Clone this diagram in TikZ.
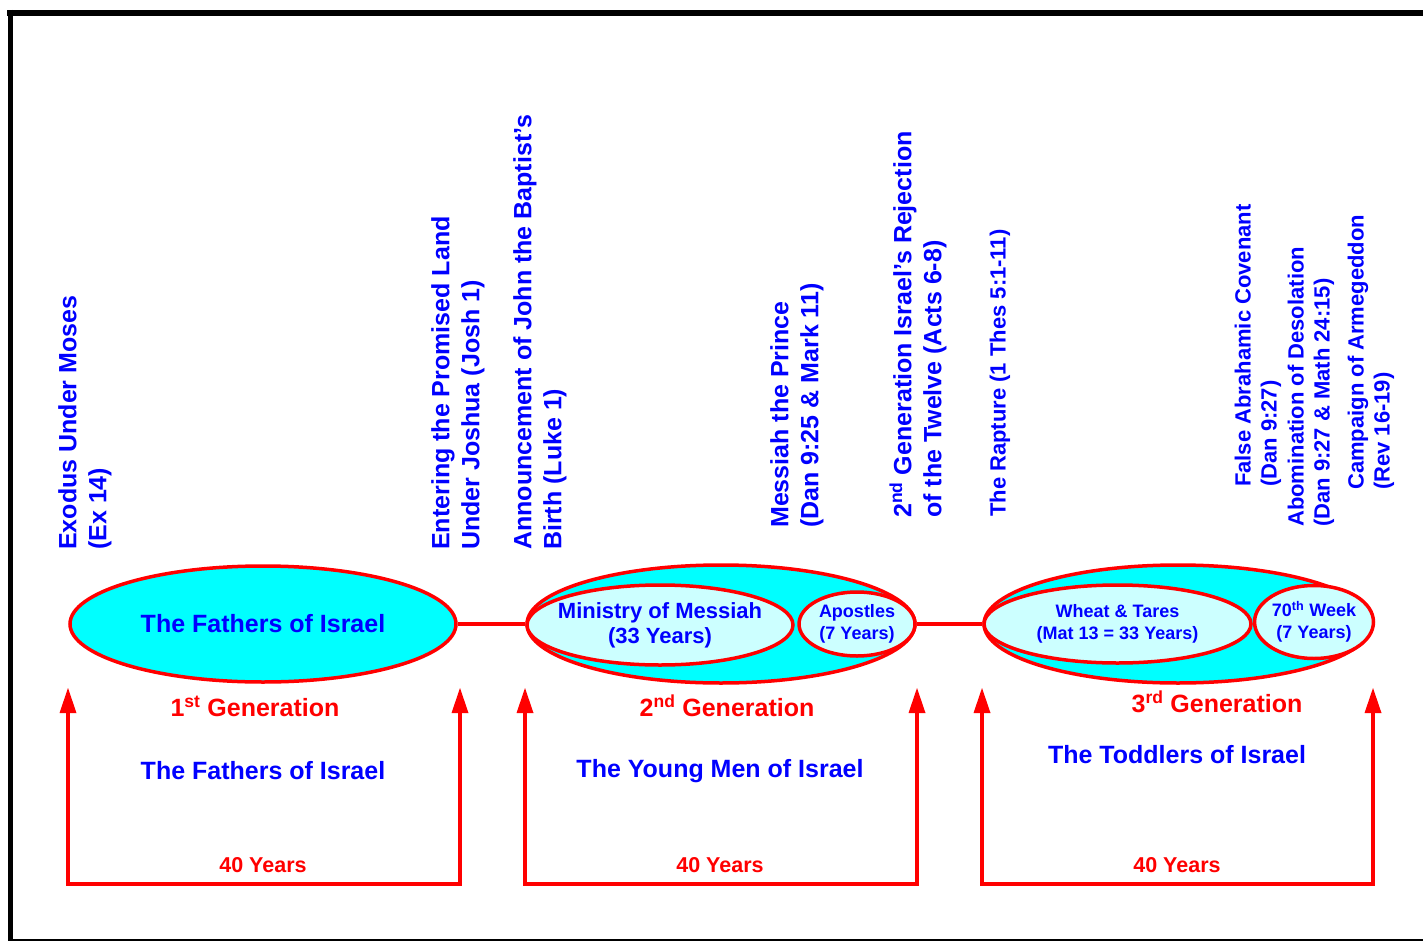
\documentclass[tikz,border=0pt]{standalone}
\usepackage{fontspec}
\setmainfont{Liberation Sans}
\usetikzlibrary{shapes.geometric, arrows.meta}
\definecolor{skyfill}{HTML}{00FFFF}
\definecolor{palefill}{HTML}{CCFFFF}
\definecolor{textblue}{HTML}{0000FF}
\definecolor{linered}{HTML}{FF0000}
\tikzstyle{generation} = [ellipse, draw=linered, line width=3.5pt, fill=skyfill, inner sep=0pt, text=textblue, align=center]
\tikzstyle{period} = [generation, fill=palefill]
\tikzstyle{event} = [rotate=90, anchor=west, align=left, inner sep=0pt, text=textblue, font=\fontsize{25}{30}\selectfont\bfseries]
\tikzstyle{eventsmall} = [event, font=\fontsize{22}{26}\selectfont\bfseries]
\tikzstyle{genlabel} = [text=linered, font=\fontsize{25}{30}\selectfont\bfseries]
\tikzstyle{people} = [text=textblue, font=\fontsize{25}{30}\selectfont\bfseries]
\tikzstyle{years} = [text=linered, font=\fontsize{21.5}{26}\selectfont\bfseries]
\tikzstyle{link} = [draw=linered, line width=4pt]
\tikzstyle{arrow} = [link, {Triangle[length=25pt,width=17pt,line width=0pt]}-{Triangle[length=25pt,width=17pt,line width=0pt]}]

\begin{document}
\begin{tikzpicture}[x=1pt, y=-1pt]
\useasboundingbox (0,0) rectangle (1423,941);
% frame
\draw [line width=6pt] (7,13) -- (1423,13);
\draw [line width=5pt] (10,10) -- (10,941);
\draw [line width=1.5pt] (10,940) -- (1423,940);

% generations
\node (gen1) [generation, minimum width=386pt, minimum height=116pt, font=\fontsize{25}{30}\selectfont\bfseries] at (263,624) {The Fathers of Israel};

\node (gen2) [generation, minimum width=388pt, minimum height=118pt] at (721,624) {};
\node (ministry) [period, minimum width=266pt, minimum height=80pt, inner xsep=-12pt, font=\fontsize{22}{25}\selectfont\bfseries] at (660,625) {Ministry of Messiah\\(33 Years)};
\node (apostles) [period, minimum width=116pt, minimum height=64pt, font=\fontsize{18}{22}\selectfont\bfseries] at (857,624) {Apostles\\(7 Years)};

\node (gen3) [generation, minimum width=388pt, minimum height=118pt] at (1178,624) {};
\node (wheat) [period, minimum width=267pt, minimum height=78pt, font=\fontsize{18}{22}\selectfont\bfseries] at (1117.5,624) {Wheat \& Tares\\(Mat 13 = 33 Years)};
\node (week) [period, minimum width=118pt, minimum height=73pt, font=\fontsize{18}{22}\selectfont\bfseries] at (1314,622) {70\textsuperscript{th} Week\\(7 Years)};

\draw [link] (gen1.east) -- (gen2.west);
\draw [link] (gen2.east) -- (gen3.west);

% forty years spans
\coordinate (start1) at (68,688);
\coordinate (end1) at (460,688);
\coordinate (start2) at (525,688);
\coordinate (end2) at (917,688);
\coordinate (start3) at (982,688);
\coordinate (end3) at (1373,688);
\draw [arrow] (start1) -- ++(0,196) -| (end1);
\draw [arrow] (start2) -- ++(0,196) -| (end2);
\draw [arrow] (start3) -- ++(0,196) -| (end3);

\node (gen1label) [genlabel] at (255,706) {1\textsuperscript{st} Generation};
\node (gen2label) [genlabel] at (727,706) {2\textsuperscript{nd} Generation};
\node (gen3label) [genlabel] at (1217,702) {3\textsuperscript{rd} Generation};

\node (fathers) [people] at (263,771) {The Fathers of Israel};
\node (youngmen) [people] at (720,771) {The Young Men of Israel};
\node (toddlers) [people] at (1177,755) {The Toddlers of Israel};

\node (years1) [years] at (263,865) {40 Years};
\node (years2) [years] at (720,865) {40 Years};
\node (years3) [years] at (1177,865) {40 Years};

% events
\node (exodus) [event] at (85,550) {Exodus Under Moses\\(Ex 14)};
\node (entering) [event] at (458,550) {Entering the Promised Land\\Under Joshua (Josh 1)};
\node (announce) [event] at (540,550) {Announcement of John the Baptist’s\\Birth (Luke 1)};
\node (messiah) [event] at (797,528) {Messiah the Prince\\(Dan 9:25 \& Mark 11)};
\node (rejection) [event] at (918,518) {2\textsuperscript{nd} Generation Israel’s Rejection\\of the Twelve (Acts 6-8)};
\node (rapture) [eventsmall] at (1000,517) {The Rapture (1 Thes 5:1-11)};
\node (covenant) [eventsmall] at (1258,487) {False Abrahamic Covenant\\(Dan 9:27)};
\node (abomination) [eventsmall] at (1311,527) {Abomination of Desolation\\(Dan 9:27 \& Math 24:15)};
\node (campaign) [eventsmall] at (1371,490) {Campaign of Armegeddon\\(Rev 16-19)};

\end{tikzpicture}
\end{document}
